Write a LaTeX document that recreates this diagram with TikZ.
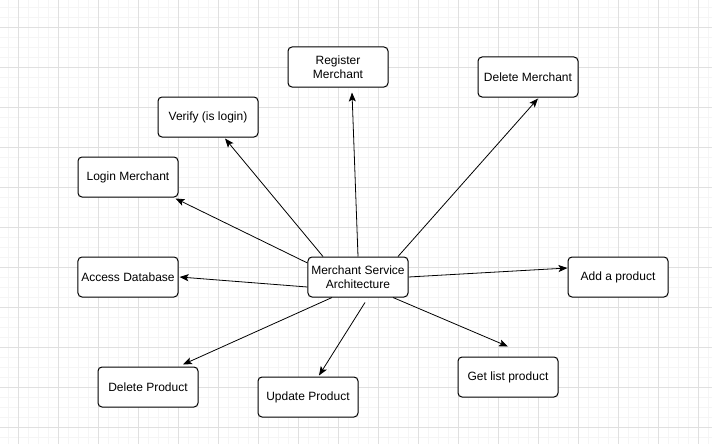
\documentclass[tikz,border=0pt]{standalone}
\usepackage{fontspec}
\setmainfont{Liberation Sans}
\usetikzlibrary{arrows.meta}
\definecolor{gridmajor}{RGB}{224,224,224}
\definecolor{gridminor}{RGB}{245,245,245}
\begin{document}
\begin{tikzpicture}[x=1pt,y=-1pt]
  \def\W{712}   % picture width
  \def\H{444}   % picture height

  \tikzstyle{box}=[draw,rounded corners=4pt,fill=white,minimum width=100pt,
    minimum height=40pt,align=center,font=\fontsize{12}{14}\selectfont,line width=1pt]
  \tikzstyle{link}=[-{Stealth[length=9pt,width=7pt,inset=2pt]},line width=0.8pt]

  % BACKGROUND GRID
  \useasboundingbox[fill=white] (0,0) rectangle (\W,\H);
  \foreach \x in {8,18,...,708} \draw[gridminor,line width=0.8pt] (\x,0) -- (\x,\H);
  \foreach \y in {7,17,...,437} \draw[gridminor,line width=0.8pt] (0,\y) -- (\W,\y);
  \foreach \x in {18,58,...,698} \draw[gridmajor,line width=0.8pt] (\x,0) -- (\x,\H);
  \foreach \y in {27,67,...,427} \draw[gridmajor,line width=0.8pt] (0,\y) -- (\W,\y);

  % BOXES
  \node[box] (msa) at (358,277) {Merchant Service\\Architecture};
  \node[box] (reg) at (338,67)  {Register\\Merchant};
  \node[box] (ver) at (208,117) {Verify (is login)};
  \node[box] (log) at (128,177) {Login Merchant};
  \node[box] (dm)  at (528,77)  {Delete Merchant};
  \node[box] (add) at (618,277) {Add a product};
  \node[box] (acc) at (128,277) {Access Database};
  \node[box] (dp)  at (148,387) {Delete Product};
  \node[box] (up)  at (308,397) {Update Product};
  \node[box] (gl)  at (508,377) {Get list product};

  % ARROWS (canvas shifts: positive yshift is up)
  \draw[link] (msa.north) -- ([xshift=14pt,yshift=-5pt]reg.south);
  \draw[link] ([xshift=-35pt]msa.north) -- ([xshift=17pt,yshift=-1pt]ver.south);
  \draw[link] ([yshift=14pt]msa.west) -- ([xshift=-3pt,yshift=-1pt]log.south east);
  \draw[link] ([xshift=40pt]msa.north) -- ([xshift=10pt,yshift=-1pt]dm.south);
  \draw[link] (msa.east) -- ([yshift=9pt]add.west);
  \draw[link] ([yshift=-10pt]msa.west) -- ([xshift=1pt]acc.east);
  \draw[link] ([xshift=-26pt]msa.south) -- ([xshift=35pt,yshift=2pt]dp.north);
  \draw[link] ([xshift=7pt,yshift=-5pt]msa.south) -- ([xshift=11pt,yshift=1pt]up.north);
  \draw[link] ([xshift=35pt]msa.south) -- ([yshift=10pt]gl.north);
\end{tikzpicture}
\end{document}
